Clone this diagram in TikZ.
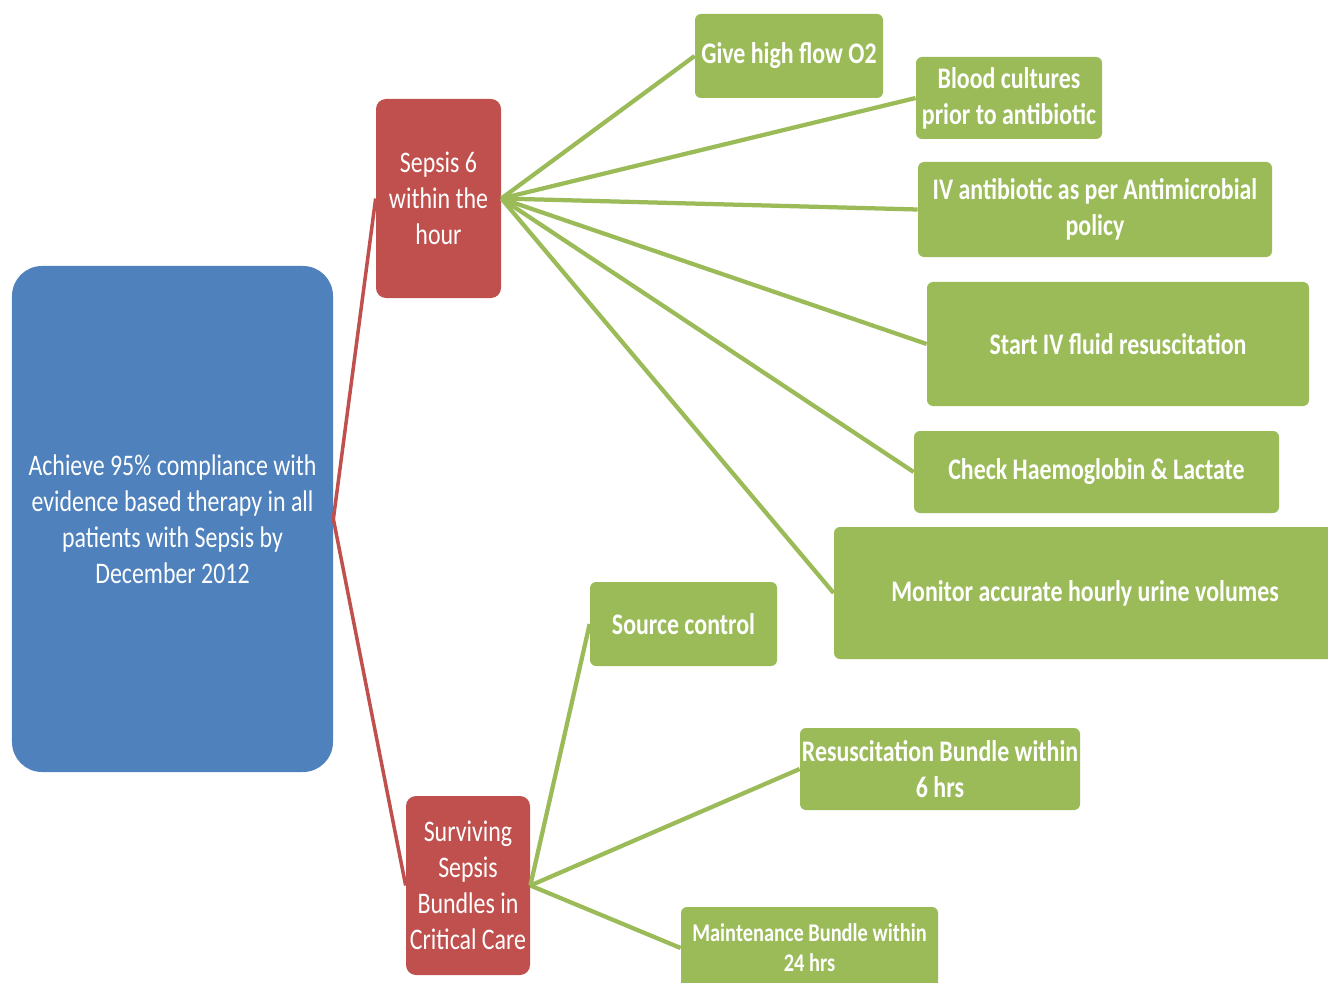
\documentclass[tikz,border=0pt]{standalone}
\usepackage{fontspec}
\setmainfont[FakeStretch=0.8]{Carlito}
\definecolor{goalblue}{HTML}{4F81BD}
\definecolor{topicred}{HTML}{C0504D}
\definecolor{actiongreen}{HTML}{9BBB59}
\tikzset{
  box/.style={rectangle,text=white,align=center,inner sep=0pt,
    font=\fontsize{17}{20.5}\selectfont},
  goalbox/.style={box,fill=goalblue,rounded corners=6mm},
  topicbox/.style={box,fill=topicred,rounded corners=2mm},
  actionbox/.style={box,fill=actiongreen,rounded corners=1.2mm,
    font=\fontsize{17}{20.5}\selectfont\bfseries},
  redlink/.style={draw=topicred,line width=0.7mm},
  greenlink/.style={draw=actiongreen,line width=0.85mm},
}
\begin{document}
\begin{tikzpicture}[x=0.2mm,y=-0.2mm]
    % Page
    \useasboundingbox[fill=white] (0,0) rectangle (1328,983);

    % Goal and topics
    \node[goalbox,minimum width=64.2mm,minimum height=101.2mm] (goal) at (172.5,519)
        {Achieve 95\% compliance with\\evidence based therapy in all\\patients with Sepsis by\\December 2012};
    \node[topicbox,minimum width=25mm,minimum height=39.8mm] (sepsis) at (438.5,198.5)
        {Sepsis 6\\within the\\hour};
    \node[topicbox,minimum width=24.8mm,minimum height=35.8mm] (bundles) at (468,885.5)
        {Surviving\\Sepsis\\Bundles in\\Critical Care};

    % Sepsis 6 actions
    \node[actionbox,minimum width=37.6mm,minimum height=16.8mm] (oxygen) at (789,56)
        {Give high flow O2};
    \node[actionbox,minimum width=37.2mm,minimum height=16.4mm] (cultures) at (1009,98)
        {Blood cultures\\prior to antibiotic};
    \node[actionbox,minimum width=70.8mm,minimum height=19mm] (antibiotic) at (1095,209.5)
        {IV antibiotic as per Antimicrobial\\policy};
    \node[actionbox,minimum width=76.4mm,minimum height=24.8mm] (fluids) at (1118,344)
        {Start IV fluid resuscitation};
    \node[actionbox,minimum width=73mm,minimum height=16.4mm] (lactate) at (1096.5,472)
        {Check Haemoglobin \& Lactate};
    \node[actionbox,minimum width=100.4mm,minimum height=26.4mm] (urine) at (1085,593)
        {Monitor accurate hourly urine volumes};

    % Bundle actions
    \node[actionbox,minimum width=37.4mm,minimum height=16.8mm] (source) at (683.5,624)
        {Source control};
    \node[actionbox,minimum width=56mm,minimum height=16.4mm] (resus) at (940,769)
        {Resuscitation Bundle within\\6 hrs};
    \node[actionbox,minimum width=51.4mm,minimum height=16.4mm,
        font=\fontsize{14.5}{17}\selectfont\bfseries] (maint) at (809.5,948)
        {Maintenance Bundle within\\24 hrs};

    % Draw the links
    \draw[redlink] (goal.east) -- (sepsis.west);
    \draw[redlink] (goal.east) -- (bundles.west);

    \draw[greenlink] (sepsis.east) -- (oxygen.west);
    \draw[greenlink] (sepsis.east) -- (cultures.west);
    \draw[greenlink] (sepsis.east) -- (antibiotic.west);
    \draw[greenlink] (sepsis.east) -- (fluids.west);
    \draw[greenlink] (sepsis.east) -- (lactate.west);
    \draw[greenlink] (sepsis.east) -- (urine.west);

    \draw[greenlink] (bundles.east) -- (source.west);
    \draw[greenlink] (bundles.east) -- (resus.west);
    \draw[greenlink] (bundles.east) -- (maint.west);
\end{tikzpicture}
\end{document}
